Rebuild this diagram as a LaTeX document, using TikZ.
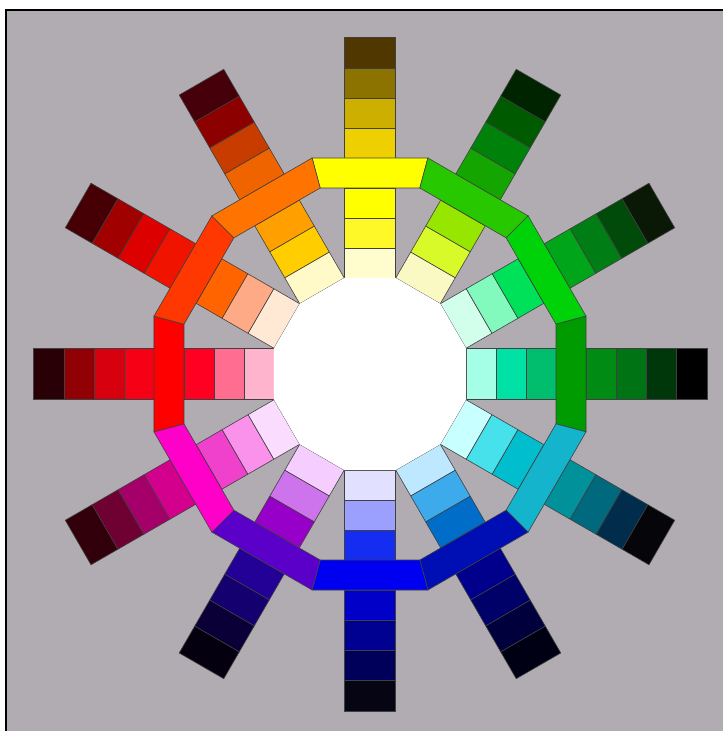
\documentclass[tikz,border=0pt]{standalone}
\usepackage{tikz}
\definecolor{bgc}{RGB}{177,172,178}
\definecolor{A1}{RGB}{255,252,205}\definecolor{A2}{RGB}{255,248,40}\definecolor{A3}{RGB}{255,255,0}\definecolor{A4}{RGB}{255,255,0}
\definecolor{A5}{RGB}{238,208,0}\definecolor{A6}{RGB}{205,175,0}\definecolor{A7}{RGB}{140,115,0}\definecolor{A8}{RGB}{80,55,0}
\definecolor{B1}{RGB}{250,248,195}\definecolor{B2}{RGB}{215,250,40}\definecolor{B3}{RGB}{150,230,0}\definecolor{B4}{RGB}{40,200,0}
\definecolor{B5}{RGB}{20,165,0}\definecolor{B6}{RGB}{0,130,10}\definecolor{B7}{RGB}{0,90,0}\definecolor{B8}{RGB}{0,35,0}
\definecolor{C1}{RGB}{210,255,235}\definecolor{C2}{RGB}{130,250,190}\definecolor{C3}{RGB}{0,225,90}\definecolor{C4}{RGB}{0,210,10}
\definecolor{C5}{RGB}{0,165,25}\definecolor{C6}{RGB}{0,125,20}\definecolor{C7}{RGB}{0,75,10}\definecolor{C8}{RGB}{10,25,5}
\definecolor{D1}{RGB}{165,255,230}\definecolor{D2}{RGB}{0,225,165}\definecolor{D3}{RGB}{0,190,110}\definecolor{D4}{RGB}{0,155,0}
\definecolor{D5}{RGB}{0,140,20}\definecolor{D6}{RGB}{0,115,20}\definecolor{D7}{RGB}{0,55,10}\definecolor{D8}{RGB}{0,0,0}
\definecolor{E1}{RGB}{200,255,255}\definecolor{E2}{RGB}{70,225,235}\definecolor{E3}{RGB}{0,190,205}\definecolor{E4}{RGB}{20,180,205}
\definecolor{E5}{RGB}{0,145,155}\definecolor{E6}{RGB}{0,105,125}\definecolor{E7}{RGB}{0,45,75}\definecolor{E8}{RGB}{5,5,10}
\definecolor{F1}{RGB}{190,232,255}\definecolor{F2}{RGB}{60,170,235}\definecolor{F3}{RGB}{0,110,200}\definecolor{F4}{RGB}{0,15,180}
\definecolor{F5}{RGB}{0,0,140}\definecolor{F6}{RGB}{0,0,105}\definecolor{F7}{RGB}{0,0,60}\definecolor{F8}{RGB}{0,0,20}
\definecolor{G1}{RGB}{225,225,255}\definecolor{G2}{RGB}{155,160,255}\definecolor{G3}{RGB}{20,45,240}\definecolor{G4}{RGB}{0,0,240}
\definecolor{G5}{RGB}{0,0,200}\definecolor{G6}{RGB}{0,0,145}\definecolor{G7}{RGB}{0,0,90}\definecolor{G8}{RGB}{5,5,20}
\definecolor{H1}{RGB}{245,205,255}\definecolor{H2}{RGB}{205,115,235}\definecolor{H3}{RGB}{150,0,200}\definecolor{H4}{RGB}{90,0,200}
\definecolor{H5}{RGB}{35,0,150}\definecolor{H6}{RGB}{20,0,110}\definecolor{H7}{RGB}{10,0,55}\definecolor{H8}{RGB}{5,0,15}
\definecolor{I1}{RGB}{250,220,255}\definecolor{I2}{RGB}{250,145,235}\definecolor{I3}{RGB}{240,65,205}\definecolor{I4}{RGB}{255,0,200}
\definecolor{I5}{RGB}{210,0,140}\definecolor{I6}{RGB}{165,0,105}\definecolor{I7}{RGB}{110,0,50}\definecolor{I8}{RGB}{50,0,10}
\definecolor{J1}{RGB}{255,180,205}\definecolor{J2}{RGB}{255,110,145}\definecolor{J3}{RGB}{255,0,35}\definecolor{J4}{RGB}{255,0,0}
\definecolor{J5}{RGB}{245,0,20}\definecolor{J6}{RGB}{215,0,15}\definecolor{J7}{RGB}{145,0,5}\definecolor{J8}{RGB}{40,0,5}
\definecolor{K1}{RGB}{255,232,212}\definecolor{K2}{RGB}{255,170,135}\definecolor{K3}{RGB}{255,100,0}\definecolor{K4}{RGB}{255,55,0}
\definecolor{K5}{RGB}{240,20,0}\definecolor{K6}{RGB}{220,0,0}\definecolor{K7}{RGB}{160,0,0}\definecolor{K8}{RGB}{70,0,5}
\definecolor{L1}{RGB}{255,250,200}\definecolor{L2}{RGB}{255,205,0}\definecolor{L3}{RGB}{255,160,0}\definecolor{L4}{RGB}{255,115,0}
\definecolor{L5}{RGB}{240,100,0}\definecolor{L6}{RGB}{200,60,0}\definecolor{L7}{RGB}{140,0,0}\definecolor{L8}{RGB}{70,0,10}
\tikzset{seg/.style={draw=black!75, line width=0.6pt, line join=miter},
ringseg/.style={draw=black!75, line width=0.6pt}}
\begin{document}
\begin{tikzpicture}[x=1pt,y=1pt]
\useasboundingbox (-370,-357) rectangle (353,374);
\fill[white] (-370,-357) rectangle (353,374);
\fill[bgc] (-364,-357) rectangle (353,364);
\draw[line width=1.6pt, black] (-364,-357) -- (-364,364) -- (353,364);
% arms
\foreach \a/\p in {90/A,60/B,30/C,0/D,-30/E,-60/F,-90/G,-120/H,-150/I,180/J,150/K,120/L}{
  \begin{scope}[rotate=\a]
    \foreach \i/\ra/\rb in {1/96/126,2/126/156,3/156/186,4/186/216,5/216/246,6/246/276,7/276/306,8/306/337}{
      \filldraw[seg, fill=\p\i] (\ra,-25.72) rectangle (\rb,25.72);
    }
  \end{scope}
}
% ring
\foreach \a/\p in {90/A,60/B,30/C,0/D,-30/E,-60/F,-90/G,-120/H,-150/I,180/J,150/K,120/L}{
  \begin{scope}[rotate=\a]
    \filldraw[ringseg, fill=\p4] (186,-49.84) -- (216,-57.88) -- (216,57.88) -- (186,49.84) -- cycle;
  \end{scope}
}
% centre
\fill[white] (15:99.4) \foreach \k in {1,...,11}{ -- (15+30*\k:99.4)} -- cycle;
\end{tikzpicture}
\end{document}
